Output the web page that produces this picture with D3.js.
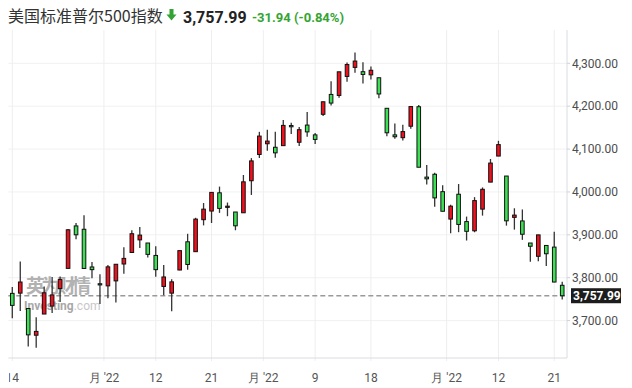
<!DOCTYPE html>
<html>
<head>
<meta charset="utf-8">
<script src="https://cdn.jsdelivr.net/npm/d3@7"></script>
<style>
  body { margin: 0; background: #fff; }
  svg { display: block; font-family: Roboto, "Noto Sans", sans-serif; }
</style>
</head>
<body>
<svg id="chart"></svg>
<script>
// daily candles, 14 Jun - 22 Sep 2022
const dates = [
  "06-14","06-15","06-16","06-17","06-21","06-22","06-23","06-24","06-27","06-28","06-29","06-30",
  "07-01","07-05","07-06","07-07","07-08","07-11","07-12","07-13","07-14","07-15","07-18","07-19","07-20","07-21","07-22","07-25","07-26","07-27","07-28","07-29",
  "08-01","08-02","08-03","08-04","08-05","08-08","08-09","08-10","08-11","08-12","08-15","08-16","08-17","08-18","08-19","08-22","08-23","08-24","08-25","08-26","08-29","08-30","08-31",
  "09-01","09-02","09-06","09-07","09-08","09-09","09-12","09-13","09-14","09-15","09-16","09-19","09-20","09-21","09-22"
];
const openVals = [
  3763.52,3764.05,3728.18,3665.90,3715.31,3733.89,3774.71,3821.75,3920.76,3913.00,3825.09,3785.99,
  3781.00,3792.61,3831.98,3858.85,3888.26,3880.94,3851.95,3779.67,3763.99,3818.00,3883.79,3860.73,3935.32,3955.47,3998.00,3965.72,3953.22,3951.43,4026.13,4087.33,
  4112.38,4104.21,4107.96,4154.85,4115.87,4155.93,4133.11,4181.02,4227.40,4225.02,4269.37,4290.46,4280.40,4273.13,4266.31,4195.08,4133.09,4126.55,4153.26,4198.74,4034.58,4041.25,4000.67,
  3936.73,3994.66,3930.89,3909.43,3959.94,4022.94,4083.67,4037.12,3940.73,3932.41,3880.95,3849.91,3875.23,3871.40,3782.36
];
const highVals = [
  3778.18,3837.56,3728.18,3707.71,3779.65,3801.79,3802.58,3913.65,3927.72,3945.86,3836.50,3807.85,
  3829.82,3832.19,3870.91,3910.63,3918.50,3880.94,3873.41,3829.44,3796.41,3863.62,3902.44,3939.81,3974.13,3999.29,4012.44,3975.30,3953.22,4039.56,4078.95,4140.15,
  4144.95,4140.47,4167.66,4161.29,4151.58,4186.62,4137.30,4211.03,4257.91,4280.47,4301.79,4325.28,4302.18,4292.53,4266.31,4195.08,4159.77,4156.56,4200.54,4203.04,4062.99,4044.98,4015.37,
  3970.23,4018.43,3942.55,3987.89,4010.50,4076.81,4119.28,4037.12,3961.94,3959.14,3880.95,3900.45,3876.01,3907.07,3790.70
];
const lowVals = [
  3705.68,3722.30,3639.77,3636.87,3715.31,3717.69,3743.52,3821.75,3889.66,3820.14,3799.02,3738.67,
  3752.10,3742.06,3809.37,3858.85,3869.34,3847.22,3802.36,3759.07,3721.56,3817.18,3818.63,3860.73,3922.03,3927.64,3951.17,3943.46,3910.74,3951.43,3992.97,4079.22,
  4096.02,4079.81,4107.96,4135.42,4107.31,4128.97,4112.09,4177.26,4201.41,4219.78,4256.90,4277.77,4253.08,4261.98,4218.70,4129.86,4124.03,4119.97,4147.59,4057.66,4017.42,3965.21,3954.53,
  3903.65,3906.21,3886.75,3906.03,3944.81,4022.94,4083.67,3921.46,3912.15,3888.28,3837.08,3838.50,3827.54,3789.49,3749.45
];
const closeVals = [
  3735.48,3789.99,3666.77,3674.84,3764.79,3759.89,3795.73,3911.74,3900.11,3821.55,3818.83,3785.38,
  3825.33,3831.39,3845.08,3902.62,3899.38,3854.43,3818.80,3801.78,3790.38,3863.16,3830.85,3936.69,3959.90,3998.95,3961.63,3966.84,3921.05,4023.61,4072.43,4130.29,
  4118.63,4091.19,4155.17,4151.94,4145.19,4140.06,4122.47,4210.24,4207.27,4280.15,4297.14,4305.20,4274.04,4283.74,4228.48,4137.99,4128.73,4140.77,4199.12,4057.66,4030.61,3986.16,3955.00,
  3966.85,3924.26,3908.19,3979.87,4006.18,4067.36,4110.41,3932.69,3946.01,3901.35,3873.33,3899.89,3855.93,3789.93,3757.99
];

const yTicks = [3700,3800,3900,4000,4100,4200,4300];
const xTickDates = ["06-14","07-01","07-12","07-21","08-01","08-09","08-18","09-01","09-12","09-21"];
const xTickLabels = ["14","月 '22","12","21","月 '22","9","18","月 '22","12","21"];
const monthStart = [false,true,false,false,true,false,false,true,false,false];

const titleText = "美国标准普尔500指数";
const lastPrice = 3757.99;
const changeText = "-31.94";
const changePctText = "(-0.84%)";

const width = 632, height = 388;
const plotLeft = 8.3, plotRight = 567, plotTop = 30, plotBottom = 358;
const upColor = "#f0101e", downColor = "#3ddf55", textGreen = "#33a433";

const svg = d3.select("#chart").attr("width", width).attr("height", height);
svg.append("rect").attr("width", width).attr("height", height).attr("fill", "#fff");

const x = d3.scaleBand().domain(dates).range([plotLeft, 566.2]).padding(0);
const y = d3.scaleLinear().domain([3700, 4300]).range([320.6, 63.3]);
const bw = x.bandwidth();
const fmt = d3.format(",.2f");

function tickX(i){
  let d = xTickDates[i];
  return monthStart[i] ? x(d) : x(d) + bw/2;
}

// grid
const grid = svg.append("g");
grid.selectAll("line.h").data(yTicks).enter().append("line")
  .attr("x1", plotLeft).attr("x2", plotRight)
  .attr("y1", d => y(d)).attr("y2", d => y(d))
  .style("stroke", "#f1f1f1").style("stroke-width", 1);
grid.selectAll("line.v").data(xTickDates).enter().append("line")
  .attr("x1", (d,i) => tickX(i)).attr("x2", (d,i) => tickX(i))
  .attr("y1", plotTop).attr("y2", plotBottom + 3)
  .style("stroke", "#eeeeee").style("stroke-width", 1);

// watermark
const wm = svg.append("g").attr("opacity", 0.65);
wm.append("text").text("英为财情")
  .attr("x", 26).attr("y", 293)
  .attr("textLength", 65)
  .style("font-family", "'Noto Sans CJK SC'")
  .style("font-weight", "bold")
  .style("font-size", "19px")
  .style("fill", "#8a8a8a");
const wmt = wm.append("text").attr("x", 24).attr("y", 310)
  .style("font-size", "12px").style("font-weight", "bold");
wmt.append("tspan").text("Investing").style("fill", "#7a7a7a");
wmt.append("tspan").text(".com").style("fill", "#aaaaaa").style("font-weight", "normal");

// axes lines
svg.append("line").attr("x1", plotRight).attr("x2", plotRight)
  .attr("y1", plotTop).attr("y2", plotBottom)
  .style("stroke", "#d9dce1").style("stroke-width", 1);
svg.append("line").attr("x1", plotLeft).attr("x2", plotRight)
  .attr("y1", plotBottom).attr("y2", plotBottom)
  .style("stroke", "#d9dce1").style("stroke-width", 1);

// last price dashed line
svg.append("line")
  .attr("x1", plotLeft).attr("x2", plotRight - 2)
  .attr("y1", y(lastPrice)).attr("y2", y(lastPrice))
  .style("stroke", "#9a9a9a").style("stroke-width", 1.5)
  .style("stroke-dasharray", "5,3");

// candles
const candles = svg.append("g").selectAll("g").data(dates).enter().append("g");
candles.append("line")
  .attr("x1", d => x(d) + bw/2).attr("x2", d => x(d) + bw/2)
  .attr("y1", (d,i) => y(highVals[i])).attr("y2", (d,i) => y(lowVals[i]))
  .style("stroke", "#333").style("stroke-width", 1.3);
candles.append("rect")
  .attr("x", d => x(d) + bw/2 - 1.8)
  .attr("width", 3.6)
  .attr("y", (d,i) => y(Math.max(openVals[i], closeVals[i])))
  .attr("height", (d,i) => Math.max(1.2, Math.abs(y(openVals[i]) - y(closeVals[i]))))
  .style("fill", (d,i) => closeVals[i] >= openVals[i] ? upColor : downColor)
  .style("stroke", "#111").style("stroke-width", 1);

// y axis labels
const yAxis = svg.append("g");
yAxis.selectAll("line").data(yTicks).enter().append("line")
  .attr("x1", plotRight).attr("x2", plotRight + 3)
  .attr("y1", d => y(d)).attr("y2", d => y(d))
  .style("stroke", "#cfd2d6");
yAxis.selectAll("text").data(yTicks).enter().append("text")
  .text(d => fmt(d))
  .attr("x", 572).attr("y", d => y(d))
  .attr("dy", "0.35em")
  .style("font-size", "12px").style("fill", "#4d4d4d");

// price tag
svg.append("rect")
  .attr("x", 571).attr("y", y(lastPrice) - 7.5)
  .attr("width", 50).attr("height", 15)
  .style("fill", "#1c1c1c");
svg.append("text").text(fmt(lastPrice))
  .attr("x", 573).attr("y", y(lastPrice))
  .attr("dy", "0.36em")
  .style("font-size", "12px").style("font-weight", "bold").style("fill", "#fff");

// x axis labels
svg.append("clipPath").attr("id", "xclip")
  .append("rect").attr("x", 9).attr("y", plotBottom).attr("width", 600).attr("height", 30);
const xAxis = svg.append("g").attr("clip-path", "url(#xclip)");
xAxis.selectAll("text").data(xTickLabels).enter().append("text")
  .text(d => d)
  .attr("x", (d,i) => tickX(i)).attr("y", 382)
  .attr("text-anchor", "middle")
  .style("font-size", "12px").style("fill", "#555");

// title row
svg.append("text").text(titleText)
  .attr("x", 8).attr("y", 22)
  .style("font-family", "'Noto Sans CJK SC'")
  .style("font-size", "16px").style("fill", "#333");
svg.append("path")
  .attr("d", "M169.5,9 h4 v5.5 h3 l-5,6 l-5,-6 h3 z")
  .style("fill", textGreen);
svg.append("text").text(fmt(lastPrice))
  .attr("x", 183).attr("y", 22.5)
  .style("font-size", "16px").style("font-weight", "bold").style("fill", "#222");
svg.append("text").text(changeText)
  .attr("x", 252).attr("y", 22)
  .style("font-size", "13px").style("font-weight", "bold").style("fill", textGreen);
svg.append("text").text(changePctText)
  .attr("x", 294).attr("y", 22)
  .style("font-size", "13px").style("font-weight", "bold").style("fill", textGreen);
</script>
</body>
</html>
